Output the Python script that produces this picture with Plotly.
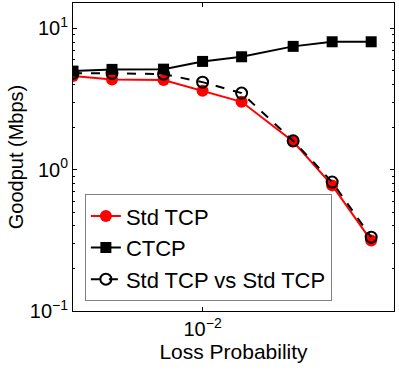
import plotly.graph_objects as go
import math

loss_prob = [0.001, 0.002, 0.005, 0.01, 0.02, 0.05, 0.1, 0.2]
std_tcp = [4.59, 4.35, 4.30, 3.61, 3.02, 1.58, 0.774, 0.315]
ctcp = [4.98, 5.12, 5.14, 5.83, 6.29, 7.45, 8.03, 8.03]
std_vs_std = [4.80, 4.80, 4.74, 4.16, 3.48, 1.60, 0.817, 0.333]

y_tickvals = [0.1, 1, 10]
y_ticktext = ["10<sup>\u22121</sup>", "10<sup>0</sup>", "10<sup>1</sup>"]
x_tickvals = [0.01]
x_ticktext = ["10<sup>\u22122</sup>"]

FONT = "Liberation Sans, Arial, Helvetica, sans-serif"

fig = go.Figure()
fig.add_trace(go.Scatter(
    x=loss_prob, y=std_tcp, name="Std TCP", mode="lines+markers",
    line=dict(color="#ff0000", width=2),
    marker=dict(symbol="circle", size=12, color="#ff0000"),
))
fig.add_trace(go.Scatter(
    x=loss_prob, y=ctcp, name="CTCP", mode="lines+markers",
    line=dict(color="black", width=2),
    marker=dict(symbol="square", size=11, color="black"),
))
fig.add_trace(go.Scatter(
    x=loss_prob, y=std_vs_std, name="Std TCP vs Std TCP", mode="lines+markers",
    line=dict(color="black", width=2, dash="dash"),
    marker=dict(symbol="circle-open", size=11, color="black", line=dict(width=2)),
))

minor_y = [m * 10 ** k for k in (-1, 0, 1) for m in range(2, 10)]

fig.update_layout(
    width=399, height=371,
    margin=dict(l=73, r=5, t=3, b=60, autoexpand=False),
    paper_bgcolor="white", plot_bgcolor="white",
    font=dict(family=FONT, size=21, color="black"),
    showlegend=True,
    legend=dict(
        x=0.037, y=0.032, xanchor="left", yanchor="bottom",
        bgcolor="white", bordercolor="#808080", borderwidth=1,
        font=dict(size=22), tracegroupgap=0, itemwidth=30,
    ),
    xaxis=dict(
        type="log", range=[-3, math.log10(0.3)], automargin=False,
        tickmode="array", tickvals=x_tickvals, ticktext=x_ticktext,
        ticks="inside", ticklen=4, tickcolor="black", tickfont=dict(size=20),
        showline=True, linecolor="black", linewidth=1, mirror="allticks",
        showgrid=False, zeroline=False,
        title=dict(text="Loss Probability", standoff=2, font=dict(size=21)),
    ),
    yaxis=dict(
        type="log", range=[-1, math.log10(15.1)], automargin=False,
        tickmode="array", tickvals=y_tickvals, ticktext=y_ticktext,
        ticks="inside", ticklen=4, tickcolor="black", tickfont=dict(size=20),
        minor=dict(tickmode="array", tickvals=minor_y, ticks="inside", ticklen=2, tickcolor="black", showgrid=False),
        showline=True, linecolor="black", linewidth=1, mirror="allticks",
        showgrid=False, zeroline=False,
        title=dict(text="Goodput (Mbps)", standoff=0, font=dict(size=20)),
    ),
)

fig.write_html("out.html", config={"displayModeBar": False},
               post_script="document.body.style.margin='0';")
